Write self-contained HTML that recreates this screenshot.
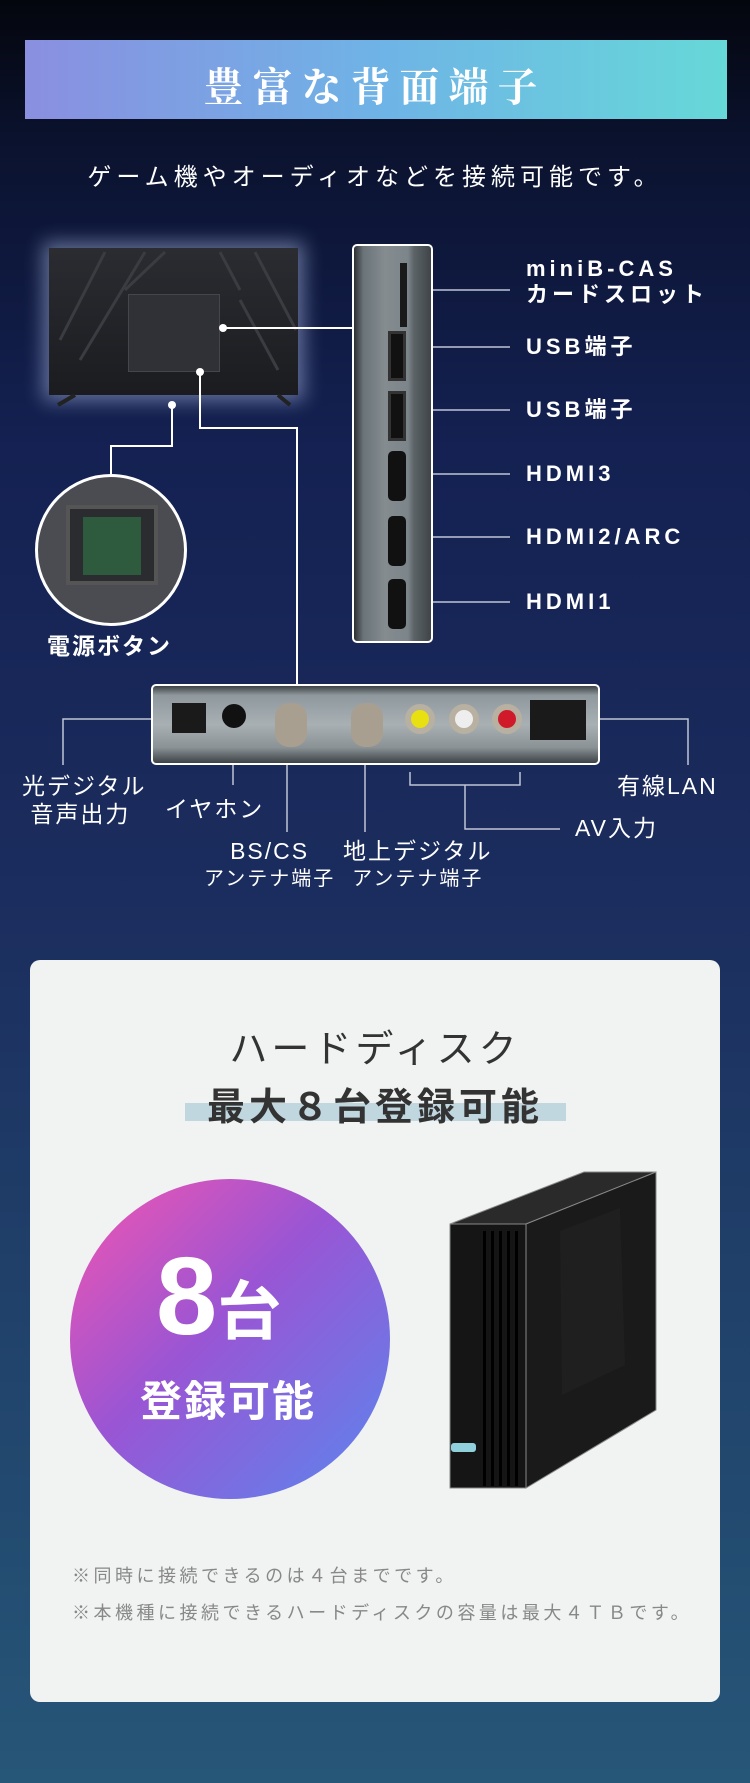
<!DOCTYPE html>
<html><head><meta charset="utf-8"><style>
*{margin:0;padding:0;box-sizing:border-box}
body{width:750px;height:1783px;overflow:hidden;position:relative;font-family:"Liberation Sans","Noto Sans CJK JP",sans-serif;
background:linear-gradient(180deg,#04060d 0px,#0b1330 150px,#142152 450px,#1b2d5e 900px,#20416a 1300px,#265678 1783px)}
.a{position:absolute;white-space:nowrap}
.w{color:#fff}
.lbl{color:#fff;font-size:22px;font-weight:bold;letter-spacing:4px;line-height:26px}
.bl{color:#fff;font-size:23px;letter-spacing:2px;line-height:28px}
</style></head><body>
<div class="a" style="left:25px;top:40px;width:702px;height:79px;background:linear-gradient(90deg,#8a8fe0,#6fb3e6 50%,#66d8d8)"></div>
<div class="a w" style="left:0;width:750px;top:56px;text-align:center;font-size:40px;letter-spacing:9px;font-weight:bold;font-family:'Liberation Serif','Noto Serif CJK SC',serif">豊富な背面端子</div>
<div class="a w" style="left:0;width:750px;top:157px;text-align:center;font-size:24px;letter-spacing:5px">ゲーム機やオーディオなどを接続可能です。</div>

<!-- TV -->
<div class="a" style="left:49px;top:248px;width:249px;height:147px;background:linear-gradient(180deg,#2a2c31,#1b1c20);box-shadow:0 0 18px 6px rgba(200,215,255,.45)"></div>
<div class="a" style="left:128px;top:294px;width:92px;height:78px;background:#2f3136;border:1px solid #44464c"></div>
<svg class="a" style="left:0;top:0" width="750" height="1000">
<g stroke="#3a3c42" stroke-width="3" fill="none">
<path d="M60 340 L105 252 M80 360 L145 252 M165 252 L125 290 M220 252 L240 290 M240 300 L278 370 M255 252 L296 330"/></g>
<path d="M75 395 L58 405 M278 395 L290 405" stroke="#222" stroke-width="4"/>
<g stroke="#fff" stroke-width="2" fill="none">
<path d="M223 328 H352"/>
<path d="M172 405 V446 H111 V474"/>
<path d="M200 372 V428 H297 V684"/>
<path d="M418 290 H510 M418 347 H510 M418 410 H510 M418 474 H510 M418 537 H510 M418 602 H510" stroke="#bfc4d6" stroke-width="1.5"/>
<path d="M160 719 H63 V765 M233 741 V785 M287 760 V832 M365 760 V832 M410 772 V785 H520 V772 M465 785 V829 H560 M592 719 H688 V765" stroke="#bfc4d6" stroke-width="1.5"/>
</g>
<circle cx="223" cy="328" r="4" fill="#fff"/><circle cx="172" cy="405" r="4" fill="#fff"/><circle cx="200" cy="372" r="4" fill="#fff"/>
</svg>

<!-- side panel -->
<div class="a" style="left:352px;top:244px;width:81px;height:399px;border:2px solid #fff;border-radius:5px;background:linear-gradient(90deg,#2b2f33 0,#6a7378 12%,#848c90 40%,#7c858a 70%,#5c6367 78%,#3e4447 100%);overflow:hidden">
<div class="a" style="left:46px;top:17px;width:7px;height:64px;background:#1a1a1a"></div>
<div class="a" style="left:34px;top:85px;width:18px;height:50px;background:#111;border:3px solid #333"></div>
<div class="a" style="left:34px;top:145px;width:18px;height:50px;background:#111;border:3px solid #333"></div>
<div class="a" style="left:34px;top:205px;width:18px;height:50px;background:#111;border-radius:5px"></div>
<div class="a" style="left:34px;top:270px;width:18px;height:50px;background:#111;border-radius:5px"></div>
<div class="a" style="left:34px;top:333px;width:18px;height:50px;background:#111;border-radius:5px"></div>
</div>
<div class="a lbl" style="left:526px;top:256px">miniB-CAS<br>カードスロット</div>
<div class="a lbl" style="left:526px;top:334px">USB端子</div>
<div class="a lbl" style="left:526px;top:397px">USB端子</div>
<div class="a lbl" style="left:526px;top:461px">HDMI3</div>
<div class="a lbl" style="left:526px;top:524px">HDMI2/ARC</div>
<div class="a lbl" style="left:526px;top:589px">HDMI1</div>

<!-- power circle -->
<div class="a" style="left:35px;top:474px;width:152px;height:152px;border-radius:50%;border:3px solid #fff;background:#4a4c52;overflow:hidden">
<div class="a" style="left:28px;top:28px;width:92px;height:80px;background:#2a2c30;border:4px solid #555"></div>
<div class="a" style="left:45px;top:40px;width:58px;height:58px;background:#2e5a3e"></div>
</div>
<div class="a bl" style="left:47px;top:632px;font-weight:bold">電源ボタン</div>

<!-- bottom panel -->
<div class="a" style="left:151px;top:684px;width:449px;height:81px;border:2px solid #fff;border-radius:5px;background:linear-gradient(180deg,#3c4245 0,#8f989d 12%,#a8b0b4 50%,#8a9296 80%,#3c4245 100%);overflow:hidden">
<div class="a" style="left:19px;top:17px;width:34px;height:30px;background:#1a1a1a"></div>
<div class="a" style="left:69px;top:18px;width:24px;height:24px;border-radius:50%;background:#111"></div>
<div class="a" style="left:122px;top:17px;width:32px;height:44px;border-radius:14px;background:#a89f90"></div>
<div class="a" style="left:198px;top:17px;width:32px;height:44px;border-radius:14px;background:#a89f90"></div>
<div class="a" style="left:252px;top:18px;width:30px;height:30px;border-radius:50%;background:#e8e010;border:6px solid #b8b0a0"></div>
<div class="a" style="left:296px;top:18px;width:30px;height:30px;border-radius:50%;background:#eee;border:6px solid #b8b0a0"></div>
<div class="a" style="left:339px;top:18px;width:30px;height:30px;border-radius:50%;background:#d01a2a;border:6px solid #b8b0a0"></div>
<div class="a" style="left:377px;top:14px;width:56px;height:40px;background:#1a1a1a"></div>
</div>
<div class="a bl" style="left:22px;top:772px;line-height:28px">光デジタル<br>&nbsp;音声出力</div>
<div class="a bl" style="left:165px;top:795px">イヤホン</div>
<div class="a bl" style="left:204px;top:838px;text-align:center;line-height:26px">BS/CS<br><span style="font-size:20px">アンテナ端子</span></div>
<div class="a bl" style="left:343px;top:838px;text-align:center;line-height:26px">地上デジタル<br><span style="font-size:20px">アンテナ端子</span></div>
<div class="a bl" style="left:617px;top:772px">有線LAN</div>
<div class="a bl" style="left:575px;top:814px">AV入力</div>

<!-- card -->
<div class="a" style="left:30px;top:960px;width:690px;height:742px;background:#f0f3f2;border-radius:10px"></div>
<div class="a" style="left:0;width:750px;top:1018px;text-align:center;font-size:38px;color:#333;letter-spacing:4px">ハードディスク</div>
<div class="a" style="left:185px;top:1103px;width:381px;height:18px;background:#c0d7e0"></div>
<div class="a" style="left:0;width:750px;top:1076px;text-align:center;font-size:38px;color:#333;font-weight:bold;letter-spacing:4px">最大８台登録可能</div>
<div class="a" style="left:70px;top:1179px;width:320px;height:320px;border-radius:50%;background:linear-gradient(135deg,#f455b0 0%,#9a55d4 45%,#5a86ee 100%)"></div>
<div class="a w" style="left:156px;top:1242px;font-size:110px;font-weight:bold;line-height:110px">8<span style="font-size:64px">台</span></div>
<div class="a w" style="left:140px;top:1368px;font-size:42px;font-weight:bold;letter-spacing:2px">登録可能</div>
<svg class="a" style="left:440px;top:1165px" width="230" height="330">
<polygon points="10,59 144,7 216,7 86,59" fill="#2a2a2a" stroke="#888" stroke-width="1"/>
<polygon points="86,59 216,7 216,245 86,323" fill="#1a1a1a" stroke="#888" stroke-width="1"/>
<polygon points="10,59 86,59 86,323 10,323" fill="#151515" stroke="#888" stroke-width="1"/>
<g fill="#000"><rect x="43" y="66" width="3" height="255"/><rect x="51" y="66" width="3" height="255"/><rect x="59" y="66" width="3" height="255"/><rect x="67" y="66" width="3" height="255"/><rect x="75" y="66" width="3" height="255"/></g>
<rect x="11" y="278" width="25" height="9" rx="3" fill="#8fd0dc"/>
<polygon points="120,66 180,43 185,200 122,230" fill="#1f1f1f"/>
</svg>
<div class="a" style="left:72px;top:1562px;font-size:18px;color:#888;letter-spacing:3.5px">※同時に接続できるのは４台までです。</div>
<div class="a" style="left:72px;top:1599px;font-size:18px;color:#888;letter-spacing:3.5px">※本機種に接続できるハードディスクの容量は最大４ＴＢです。</div>
</body></html>
